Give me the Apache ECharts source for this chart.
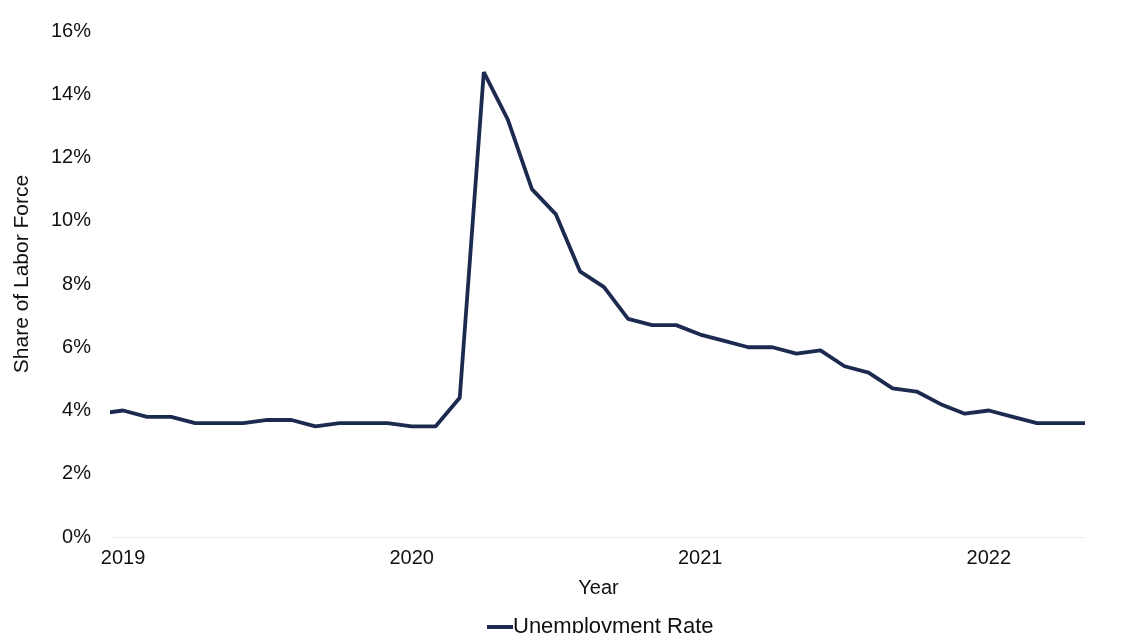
<!DOCTYPE html>
<html>
<head>
<meta charset="utf-8">
<script src="https://cdn.jsdelivr.net/npm/echarts@6/dist/echarts.min.js"></script>
<style>
html,body{margin:0;padding:0;background:#fff;}
#chart{width:1140px;height:633px;}
</style>
</head>
<body>
<div id="chart"></div>
<script>
// Months from Dec 2018 (partially visible) to May 2022
const months = ['2018-12',
  '2019-01','2019-02','2019-03','2019-04','2019-05','2019-06','2019-07','2019-08','2019-09','2019-10','2019-11','2019-12',
  '2020-01','2020-02','2020-03','2020-04','2020-05','2020-06','2020-07','2020-08','2020-09','2020-10','2020-11','2020-12',
  '2021-01','2021-02','2021-03','2021-04','2021-05','2021-06','2021-07','2021-08','2021-09','2021-10','2021-11','2021-12',
  '2022-01','2022-02','2022-03','2022-04','2022-05'];
const unemploymentRate = [3.9,
  4.0,3.8,3.8,3.6,3.6,3.6,3.7,3.7,3.5,3.6,3.6,3.6,
  3.5,3.5,4.4,14.7,13.2,11.0,10.2,8.4,7.9,6.9,6.7,6.7,
  6.4,6.2,6.0,6.0,5.8,5.9,5.4,5.2,4.7,4.6,4.2,3.9,
  4.0,3.8,3.6,3.6,3.6];
const yearLabels = ['2019','2020','2021','2022'];
const yTicks = [0,2,4,6,8,10,12,14,16];

// month index relative to Jan 2019
function monthIndex(m){
  const [y,mo] = m.split('-').map(Number);
  return (y-2019)*12 + (mo-1);
}
const seriesData = months.map((m,i)=>[monthIndex(m), unemploymentRate[i]]);
const yearTickValues = yearLabels.map(y=>monthIndex(y+'-01'));

const chart = echarts.init(document.getElementById('chart'));
const font = 'Liberation Sans, Arial, sans-serif';
chart.setOption({
  animation:false,
  backgroundColor:'#fff',
  grid:{left:112, right:55, top:31, bottom:96, containLabel:false},
  xAxis:{
    type:'value',
    min:-0.46,
    max:monthIndex('2022-05'),
    name:'Year',
    nameLocation:'middle',
    nameGap:41,
    nameTextStyle:{color:'#111', fontSize:20, fontFamily:font},
    axisLine:{show:true, lineStyle:{color:'#ececec', width:1}},
    axisTick:{show:false},
    splitLine:{show:false},
    axisLabel:{
      customValues:yearTickValues,
      formatter:(v)=>{ const i=yearTickValues.indexOf(v); return i>=0?yearLabels[i]:''; },
      color:'#111', fontSize:20, fontFamily:font, margin:11
    }
  },
  yAxis:{
    type:'value',
    min:0, max:16, interval:2,
    name:'Share of Labor Force',
    nameLocation:'middle',
    nameGap:79,
    nameTextStyle:{color:'#111', fontSize:21, fontFamily:font, padding:[0,0,0,20]},
    axisLine:{show:false},
    axisTick:{show:false},
    splitLine:{show:false},
    axisLabel:{
      formatter:(v)=> yTicks.includes(v) ? v+'%' : '',
      color:'#111', fontSize:20, fontFamily:font, margin:21
    }
  },
  legend:{
    show:true,
    left:482,
    top:611,
    itemWidth:26, itemHeight:4, itemGap:10,
    icon:'rect',
    textStyle:{color:'#111', fontSize:22, fontFamily:font, padding:[0,0,0,-5]},
    data:['Unemployment Rate']
  },
  series:[{
    name:'Unemployment Rate',
    type:'line',
    data:seriesData,
    showSymbol:false,
    symbol:'none',
    clip:true,
    lineStyle:{color:'#1b2a4e', width:3.8},
    itemStyle:{color:'#1b2a4e'}
  }]
});
</script>
</body>
</html>
